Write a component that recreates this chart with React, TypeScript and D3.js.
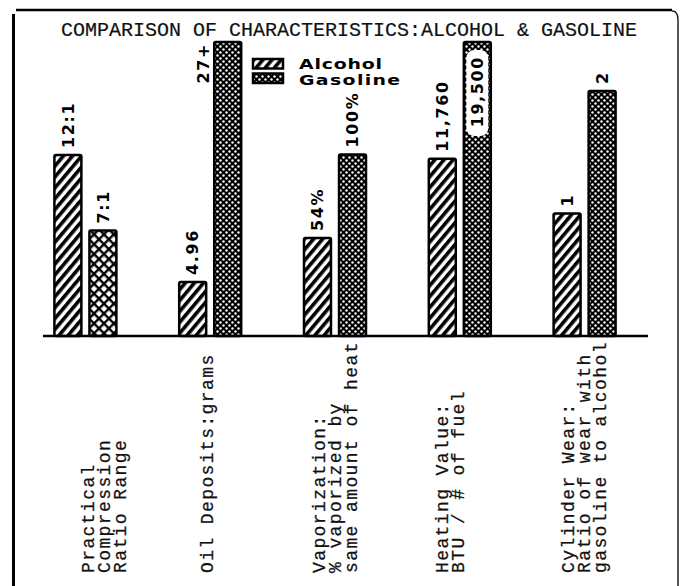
import React from "react";
import * as d3 from "d3";

const title = "COMPARISON OF CHARACTERISTICS:ALCOHOL & GASOLINE";
const categories = ["compression", "oil", "vaporization", "heating", "wear"];
const categoryLines = [
  ["Practical", "Compression", "Ratio Range"],
  ["Oil Deposits:grams"],
  ["Vaporization:", "% vaporized by", "same amount of heat"],
  ["Heating Value:", "BTU / # of fuel"],
  ["Cylinder Wear:", "Ratio of wear with", "gasoline to alcohol"],
];
const series = ["Alcohol", "Gasoline"];
const alcoholValues = [12, 4.96, 54, 11760, 1];
const gasolineValues = [7, 27, 100, 19500, 2];
const alcoholLabels = ["12:1", "4.96", "54%", "11,760", "1"];
const gasolineLabels = ["7:1", "27+", "100%", "19,500", "2"];
// each category has its own value scale (domain maximum)
const scaleMax = [19.5, 27, 162, 19500, 2.4];

const W = 682;
const H = 586;
const BASE = 336;
const TOP = 42;

export default function App() {
  const x = d3.scaleBand<string>().domain(categories).range([23, 647]).padding(0);
  const inner = d3.scaleBand<string>().domain(series).range([-31, 31]).paddingInner(0.23);
  const yScales = scaleMax.map((m) => d3.scaleLinear().domain([0, m]).range([BASE, TOP]));
  const bw = inner.bandwidth();
  const labelFont = "'DejaVu Sans', Verdana, sans-serif";
  const monoFont = "'Liberation Mono', 'DejaVu Sans Mono', monospace";
  // horizontal shift of each category's typed label block relative to its group centre
  const labelShift = [19, -3, 0, -10, 0];

  const bars: any[] = [];
  const labels: any[] = [];
  categories.forEach((c, i) => {
    const cx = x(c)! + x.bandwidth() / 2;
    const y = yScales[i];
    [
      { s: "Alcohol", v: alcoholValues[i], l: alcoholLabels[i] },
      { s: "Gasoline", v: gasolineValues[i], l: gasolineLabels[i] },
    ].forEach((d) => {
      const bx = cx + inner(d.s)!;
      const top = y(d.v);
      const fill =
        d.s === "Alcohol" ? "url(#stripes)" : i === 0 ? "url(#crossCoarse)" : "url(#dots)";
      bars.push(
        <rect
          key={c + d.s}
          x={bx}
          y={top}
          width={bw}
          height={BASE - top}
          fill={fill}
          stroke="#000"
          strokeWidth={2.5}
          rx={1.5}
        />
      );
      const mid = bx + bw / 2;
      const common = {
        fontFamily: labelFont,
        fontWeight: "bold" as const,
        fontSize: 16,
        letterSpacing: 1.6,
        dy: "0.36em",
      };
      if (d.s === "Gasoline" && i === 1) {
        labels.push(
          <text
            key={"l" + c + d.s}
            transform={`translate(${bx - 11},${top + 1}) rotate(-90)`}
            textAnchor="end"
            {...common}
          >
            {d.l}
          </text>
        );
      } else if (d.s === "Gasoline" && i === 3) {
        labels.push(
          <g key={"l" + c + d.s}>
            <rect x={bx + 2.5} y={top + 8} width={bw - 5} height={86} rx={8} fill="#fff" />
            <text
              transform={`translate(${mid},${top + 14}) rotate(-90)`}
              textAnchor="end"
              {...common}
            >
              {d.l}
            </text>
          </g>
        );
      } else {
        labels.push(
          <text
            key={"l" + c + d.s}
            transform={`translate(${mid},${top - 7}) rotate(-90)`}
            textAnchor="start"
            {...common}
          >
            {d.l}
          </text>
        );
      }
    });
  });

  const catLabels = categories.map((c, i) => {
    const cx = x(c)! + x.bandwidth() / 2 + labelShift[i];
    const lines = categoryLines[i];
    const n = lines.length;
    return lines.map((ln, j) => (
      <text
        key={c + j}
        transform={`translate(${cx + (j - (n - 1) / 2) * 16},${573}) rotate(-90)`}
        textAnchor="start"
        dy="0.32em"
        fontFamily={monoFont}
        fontSize={18}
        letterSpacing={1.4}
        fill="#111"
        stroke="#111"
        strokeWidth={0.25}
      >
        {ln}
      </text>
    ));
  });

  return (
    <svg
      width={W}
      height={H}
      viewBox={`0 0 ${W} ${H}`}
      style={{ position: "absolute", left: 0, top: 0, display: "block", background: "#fff" }}
    >
      <defs>
        <pattern id="stripes" patternUnits="userSpaceOnUse" width={7} height={7} patternTransform="rotate(40)">
          <rect width={7} height={7} fill="#fff" />
          <rect x={0} y={0} width={3.6} height={7} fill="#000" />
        </pattern>
        <pattern id="dots" patternUnits="userSpaceOnUse" width={6} height={6}>
          <rect width={6} height={6} fill="#000" />
          <circle cx={1.5} cy={1.5} r={1.2} fill="#fff" />
          <circle cx={4.5} cy={4.5} r={1.2} fill="#fff" />
        </pattern>
        <pattern id="crossCoarse" patternUnits="userSpaceOnUse" width={7} height={7} patternTransform="rotate(45)">
          <rect width={7} height={7} fill="#fff" />
          <rect x={0} y={0} width={2.4} height={7} fill="#000" />
          <rect x={0} y={0} width={7} height={2.4} fill="#000" />
        </pattern>
      </defs>

      {/* frame */}
      <line x1={16} y1={10} x2={672} y2={10} stroke="#000" strokeWidth={2.5} />
      <line x1={13.5} y1={14} x2={13.5} y2={586} stroke="#000" strokeWidth={3} />
      <path d="M672,11 Q678,11 678,20 L678,586" fill="none" stroke="#222" strokeWidth={1.5} />

      <text x={349} y={36} textAnchor="middle" fontFamily={monoFont} fontSize={20} fill="#111" stroke="#111" strokeWidth={0.2}>
        {title}
      </text>

      {bars}
      <line x1={43} y1={BASE} x2={648} y2={BASE} stroke="#000" strokeWidth={2.5} />
      {labels}

      {/* legend */}
      <g>
        <rect x={253} y={59} width={30} height={9.5} fill="url(#stripes)" stroke="#000" strokeWidth={2.5} />
        <rect x={253} y={73.5} width={30} height={9.5} fill="url(#dots)" stroke="#000" strokeWidth={2.5} />
        <text transform="translate(299,68.5) scale(1.35,1)" fontFamily={labelFont} fontWeight="bold" fontSize={14} letterSpacing={0.6}>
          {series[0]}
        </text>
        <text transform="translate(299,85) scale(1.35,1)" fontFamily={labelFont} fontWeight="bold" fontSize={14} letterSpacing={1}>
          {series[1]}
        </text>
      </g>

      {catLabels}
    </svg>
  );
}
